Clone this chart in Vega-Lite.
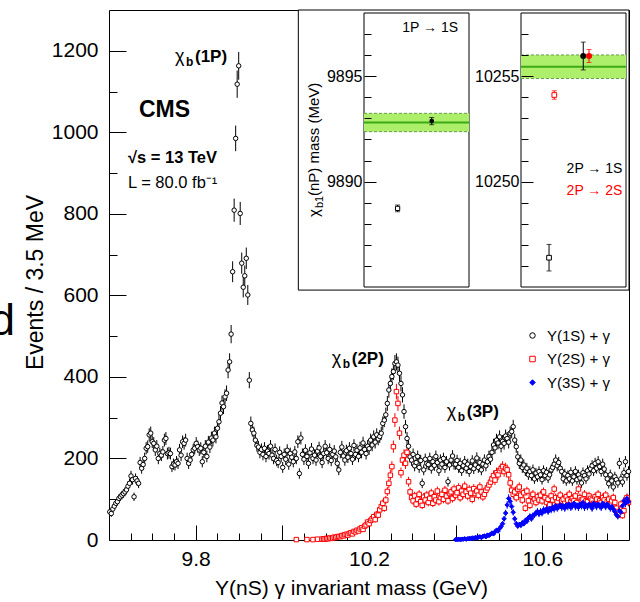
{
"$schema":"https://vega.github.io/schema/vega-lite/v6.json",
"width":520,"height":530,
"autosize":{"type":"none"},
"padding":{"left":109,"top":10,"right":11,"bottom":62},
"background":"white",
"config":{"font":"Liberation Sans","view":{"stroke":"black","strokeWidth":1},
"axis":{"grid":false,"domain":false,"zindex":1,"tickColor":"black","tickWidth":1,"labelColor":"black","titleColor":"black","labelFont":"Liberation Sans","titleFont":"Liberation Sans","titleFontWeight":"normal","labelFontWeight":"normal","labelOverlap":false,"labelFlush":false,"labelBound":false}},
"datasets":{
"h":[
{"s":1,"x":9.6018,"y":69},{"s":1,"x":9.6053,"y":65},{"s":1,"x":9.6088,"y":76},{"s":1,"x":9.6123,"y":83},{"s":1,"x":9.6158,"y":90},{"s":1,"x":9.6193,"y":94},{"s":1,"x":9.6228,"y":102},{"s":1,"x":9.6263,"y":106},{"s":1,"x":9.6298,"y":110},{"s":1,"x":9.6333,"y":114},
{"s":1,"x":9.6368,"y":118},{"s":1,"x":9.6403,"y":123},{"s":1,"x":9.6438,"y":132},{"s":1,"x":9.6473,"y":139},{"s":1,"x":9.6508,"y":157},{"s":1,"x":9.6543,"y":148},{"s":1,"x":9.6578,"y":106},{"s":1,"x":9.6613,"y":151},{"s":1,"x":9.6648,"y":145},{"s":1,"x":9.6683,"y":139},
{"s":1,"x":9.6718,"y":190},{"s":1,"x":9.6753,"y":176},{"s":1,"x":9.6788,"y":185},{"s":1,"x":9.6823,"y":200},{"s":1,"x":9.6858,"y":225},{"s":1,"x":9.6893,"y":229},{"s":1,"x":9.6928,"y":258},{"s":1,"x":9.6963,"y":262},{"s":1,"x":9.6998,"y":241},{"s":1,"x":9.7033,"y":237},
{"s":1,"x":9.7068,"y":221},{"s":1,"x":9.7103,"y":230},{"s":1,"x":9.7138,"y":200},{"s":1,"x":9.7173,"y":212},{"s":1,"x":9.7208,"y":208},{"s":1,"x":9.7243,"y":216},{"s":1,"x":9.7278,"y":245},{"s":1,"x":9.7313,"y":249},{"s":1,"x":9.7348,"y":212},{"s":1,"x":9.7383,"y":214},
{"s":1,"x":9.7418,"y":212},{"s":1,"x":9.7453,"y":180},{"s":1,"x":9.7488,"y":186},{"s":1,"x":9.7523,"y":184},{"s":1,"x":9.7558,"y":192},{"s":1,"x":9.7593,"y":188},{"s":1,"x":9.7628,"y":221},{"s":1,"x":9.7663,"y":208},{"s":1,"x":9.7698,"y":241},{"s":1,"x":9.7733,"y":237},
{"s":1,"x":9.7768,"y":245},{"s":1,"x":9.7803,"y":200},{"s":1,"x":9.7838,"y":188},{"s":1,"x":9.7873,"y":196},{"s":1,"x":9.7908,"y":210},{"s":1,"x":9.7943,"y":221},{"s":1,"x":9.7978,"y":225},{"s":1,"x":9.8013,"y":237},{"s":1,"x":9.8048,"y":229},{"s":1,"x":9.8083,"y":221},
{"s":1,"x":9.8118,"y":225},{"s":1,"x":9.8153,"y":192},{"s":1,"x":9.8188,"y":215},{"s":1,"x":9.8223,"y":230},{"s":1,"x":9.8258,"y":205},{"s":1,"x":9.8293,"y":240},{"s":1,"x":9.8328,"y":228},{"s":1,"x":9.8363,"y":250},{"s":1,"x":9.8398,"y":245},{"s":1,"x":9.8433,"y":262},
{"s":1,"x":9.8468,"y":253},{"s":1,"x":9.8503,"y":274},{"s":1,"x":9.8538,"y":290},{"s":1,"x":9.8573,"y":311},{"s":1,"x":9.8608,"y":336},{"s":1,"x":9.8643,"y":327},{"s":1,"x":9.8678,"y":351},{"s":1,"x":9.8713,"y":360},{"s":1,"x":9.8748,"y":417},{"s":1,"x":9.8783,"y":437},
{"s":1,"x":9.8818,"y":505},{"s":1,"x":9.8853,"y":658},{"s":1,"x":9.8888,"y":809},{"s":1,"x":9.8923,"y":985},{"s":1,"x":9.8958,"y":1118},{"s":1,"x":9.8993,"y":1163},{"s":1,"x":9.9028,"y":801},{"s":1,"x":9.9063,"y":679},{"s":1,"x":9.9098,"y":620},{"s":1,"x":9.9133,"y":648},
{"s":1,"x":9.9168,"y":691},{"s":1,"x":9.9203,"y":601},{"s":1,"x":9.9238,"y":392},{"s":1,"x":9.9273,"y":286},{"s":1,"x":9.9308,"y":270},{"s":1,"x":9.9343,"y":262},{"s":1,"x":9.9378,"y":245},{"s":1,"x":9.9413,"y":232},{"s":1,"x":9.9448,"y":228},{"s":1,"x":9.9483,"y":215},
{"s":1,"x":9.9518,"y":222},{"s":1,"x":9.9553,"y":210},{"s":1,"x":9.9588,"y":225},{"s":1,"x":9.9623,"y":205},{"s":1,"x":9.9658,"y":218},{"s":1,"x":9.9693,"y":212},{"s":1,"x":9.9728,"y":230},{"s":1,"x":9.9763,"y":208},{"s":1,"x":9.9798,"y":200},{"s":1,"x":9.9833,"y":222},
{"s":1,"x":9.9868,"y":195},{"s":1,"x":9.9903,"y":190},{"s":1,"x":9.9938,"y":215},{"s":1,"x":9.9973,"y":205},{"s":1,"x":10.0008,"y":178},{"s":1,"x":10.0043,"y":210},{"s":1,"x":10.0078,"y":198},{"s":1,"x":10.0113,"y":220},{"s":1,"x":10.0148,"y":186},{"s":1,"x":10.0183,"y":212},
{"s":1,"x":10.0218,"y":203},{"s":1,"x":10.0253,"y":192},{"s":1,"x":10.0288,"y":216},{"s":1,"x":10.0323,"y":200},{"s":1,"x":10.0358,"y":241},{"s":1,"x":10.0393,"y":163},{"s":1,"x":10.0428,"y":250},{"s":1,"x":10.0463,"y":210},{"s":1,"x":10.0498,"y":198},{"s":1,"x":10.0533,"y":220},
{"s":1,"x":10.0568,"y":205},{"s":1,"x":10.0603,"y":188},{"s":1,"x":10.0638,"y":214},{"s":1,"x":10.0673,"y":223},{"s":1,"x":10.0708,"y":200},{"s":1,"x":10.0743,"y":208},{"s":1,"x":10.0778,"y":196},{"s":1,"x":10.0813,"y":218},{"s":1,"x":10.0848,"y":226},{"s":1,"x":10.0883,"y":205},
{"s":1,"x":10.0918,"y":190},{"s":1,"x":10.0953,"y":212},{"s":1,"x":10.0988,"y":230},{"s":1,"x":10.1023,"y":214},{"s":1,"x":10.1058,"y":200},{"s":1,"x":10.1093,"y":222},{"s":1,"x":10.1128,"y":195},{"s":1,"x":10.1163,"y":210},{"s":1,"x":10.1198,"y":218},{"s":1,"x":10.1233,"y":204},
{"s":1,"x":10.1268,"y":188},{"s":1,"x":10.1303,"y":172},{"s":1,"x":10.1338,"y":215},{"s":1,"x":10.1373,"y":228},{"s":1,"x":10.1408,"y":206},{"s":1,"x":10.1443,"y":196},{"s":1,"x":10.1478,"y":219},{"s":1,"x":10.1513,"y":203},{"s":1,"x":10.1548,"y":225},{"s":1,"x":10.1583,"y":212},
{"s":1,"x":10.1618,"y":198},{"s":1,"x":10.1653,"y":232},{"s":1,"x":10.1688,"y":210},{"s":1,"x":10.1723,"y":220},{"s":1,"x":10.1758,"y":205},{"s":1,"x":10.1793,"y":226},{"s":1,"x":10.1828,"y":215},{"s":1,"x":10.1863,"y":238},{"s":1,"x":10.1898,"y":222},{"s":1,"x":10.1933,"y":212},
{"s":1,"x":10.1968,"y":230},{"s":1,"x":10.2003,"y":224},{"s":1,"x":10.2038,"y":245},{"s":1,"x":10.2073,"y":233},{"s":1,"x":10.2108,"y":253},{"s":1,"x":10.2143,"y":240},{"s":1,"x":10.2178,"y":258},{"s":1,"x":10.2213,"y":248},{"s":1,"x":10.2248,"y":254},{"s":1,"x":10.2283,"y":262},
{"s":1,"x":10.2318,"y":286},{"s":1,"x":10.2353,"y":294},{"s":1,"x":10.2388,"y":307},{"s":1,"x":10.2423,"y":335},{"s":1,"x":10.2458,"y":368},{"s":1,"x":10.2493,"y":384},{"s":1,"x":10.2528,"y":401},{"s":1,"x":10.2563,"y":413},{"s":1,"x":10.2598,"y":433},{"s":1,"x":10.2633,"y":437},
{"s":1,"x":10.2668,"y":429},{"s":1,"x":10.2703,"y":409},{"s":1,"x":10.2738,"y":384},{"s":1,"x":10.2773,"y":356},{"s":1,"x":10.2808,"y":315},{"s":1,"x":10.2843,"y":278},{"s":1,"x":10.2878,"y":249},{"s":1,"x":10.2913,"y":230},{"s":1,"x":10.2948,"y":204},{"s":1,"x":10.2983,"y":196},
{"s":1,"x":10.3018,"y":210},{"s":1,"x":10.3053,"y":182},{"s":1,"x":10.3088,"y":190},{"s":1,"x":10.3123,"y":205},{"s":1,"x":10.3158,"y":178},{"s":1,"x":10.3193,"y":195},{"s":1,"x":10.3228,"y":139},{"s":1,"x":10.3263,"y":172},{"s":1,"x":10.3298,"y":198},{"s":1,"x":10.3333,"y":188},
{"s":1,"x":10.3368,"y":185},{"s":1,"x":10.3403,"y":200},{"s":1,"x":10.3438,"y":176},{"s":1,"x":10.3473,"y":192},{"s":1,"x":10.3508,"y":183},{"s":1,"x":10.3543,"y":205},{"s":1,"x":10.3578,"y":190},{"s":1,"x":10.3613,"y":170},{"s":1,"x":10.3648,"y":196},{"s":1,"x":10.3683,"y":186},
{"s":1,"x":10.3718,"y":200},{"s":1,"x":10.3753,"y":178},{"s":1,"x":10.3788,"y":192},{"s":1,"x":10.3823,"y":143},{"s":1,"x":10.3858,"y":184},{"s":1,"x":10.3893,"y":196},{"s":1,"x":10.3928,"y":206},{"s":1,"x":10.3963,"y":186},{"s":1,"x":10.3998,"y":186},{"s":1,"x":10.4033,"y":195},
{"s":1,"x":10.4068,"y":178},{"s":1,"x":10.4103,"y":188},{"s":1,"x":10.4138,"y":170},{"s":1,"x":10.4173,"y":182},{"s":1,"x":10.4208,"y":192},{"s":1,"x":10.4243,"y":176},{"s":1,"x":10.4278,"y":186},{"s":1,"x":10.4313,"y":168},{"s":1,"x":10.4348,"y":180},{"s":1,"x":10.4383,"y":194},
{"s":1,"x":10.4418,"y":175},{"s":1,"x":10.4453,"y":184},{"s":1,"x":10.4488,"y":201},{"s":1,"x":10.4523,"y":178},{"s":1,"x":10.4558,"y":190},{"s":1,"x":10.4593,"y":172},{"s":1,"x":10.4628,"y":186},{"s":1,"x":10.4663,"y":196},{"s":1,"x":10.4698,"y":182},{"s":1,"x":10.4733,"y":192},
{"s":1,"x":10.4768,"y":205},{"s":1,"x":10.4803,"y":198},{"s":1,"x":10.4838,"y":215},{"s":1,"x":10.4873,"y":233},{"s":1,"x":10.4908,"y":226},{"s":1,"x":10.4943,"y":245},{"s":1,"x":10.4978,"y":238},{"s":1,"x":10.5013,"y":253},{"s":1,"x":10.5048,"y":230},{"s":1,"x":10.5083,"y":242},
{"s":1,"x":10.5118,"y":237},{"s":1,"x":10.5153,"y":255},{"s":1,"x":10.5188,"y":249},{"s":1,"x":10.5223,"y":240},{"s":1,"x":10.5258,"y":262},{"s":1,"x":10.5293,"y":266},{"s":1,"x":10.5328,"y":278},{"s":1,"x":10.5363,"y":245},{"s":1,"x":10.5398,"y":229},{"s":1,"x":10.5433,"y":204},
{"s":1,"x":10.5468,"y":188},{"s":1,"x":10.5503,"y":196},{"s":1,"x":10.5538,"y":178},{"s":1,"x":10.5573,"y":184},{"s":1,"x":10.5608,"y":170},{"s":1,"x":10.5643,"y":176},{"s":1,"x":10.5678,"y":160},{"s":1,"x":10.5713,"y":168},{"s":1,"x":10.5748,"y":158},{"s":1,"x":10.5783,"y":172},
{"s":1,"x":10.5818,"y":150},{"s":1,"x":10.5853,"y":164},{"s":1,"x":10.5888,"y":155},{"s":1,"x":10.5923,"y":168},{"s":1,"x":10.5958,"y":160},{"s":1,"x":10.5993,"y":148},{"s":1,"x":10.6028,"y":170},{"s":1,"x":10.6063,"y":158},{"s":1,"x":10.6098,"y":166},{"s":1,"x":10.6133,"y":152},
{"s":1,"x":10.6168,"y":160},{"s":1,"x":10.6203,"y":172},{"s":1,"x":10.6238,"y":178},{"s":1,"x":10.6273,"y":186},{"s":1,"x":10.6308,"y":196},{"s":1,"x":10.6343,"y":182},{"s":1,"x":10.6378,"y":190},{"s":1,"x":10.6413,"y":176},{"s":1,"x":10.6448,"y":168},{"s":1,"x":10.6483,"y":150},
{"s":1,"x":10.6518,"y":162},{"s":1,"x":10.6553,"y":145},{"s":1,"x":10.6588,"y":158},{"s":1,"x":10.6623,"y":150},{"s":1,"x":10.6658,"y":166},{"s":1,"x":10.6693,"y":145},{"s":1,"x":10.6728,"y":155},{"s":1,"x":10.6763,"y":168},{"s":1,"x":10.6798,"y":148},{"s":1,"x":10.6833,"y":160},
{"s":1,"x":10.6868,"y":152},{"s":1,"x":10.6903,"y":140},{"s":1,"x":10.6938,"y":165},{"s":1,"x":10.6973,"y":158},{"s":1,"x":10.7008,"y":150},{"s":1,"x":10.7043,"y":170},{"s":1,"x":10.7078,"y":162},{"s":1,"x":10.7113,"y":175},{"s":1,"x":10.7148,"y":182},{"s":1,"x":10.7183,"y":170},
{"s":1,"x":10.7218,"y":188},{"s":1,"x":10.7253,"y":176},{"s":1,"x":10.7288,"y":192},{"s":1,"x":10.7323,"y":180},{"s":1,"x":10.7358,"y":168},{"s":1,"x":10.7393,"y":186},{"s":1,"x":10.7428,"y":174},{"s":1,"x":10.7463,"y":160},{"s":1,"x":10.7498,"y":150},{"s":1,"x":10.7533,"y":138},
{"s":1,"x":10.7568,"y":160},{"s":1,"x":10.7603,"y":145},{"s":1,"x":10.7638,"y":130},{"s":1,"x":10.7673,"y":155},{"s":1,"x":10.7708,"y":148},{"s":1,"x":10.7743,"y":140},{"s":1,"x":10.7778,"y":188},{"s":1,"x":10.7813,"y":150},{"s":1,"x":10.7848,"y":142},{"s":1,"x":10.7883,"y":165},
{"s":1,"x":10.7918,"y":192},{"s":1,"x":10.7953,"y":158},{"s":1,"x":10.7988,"y":168},
{"s":2,"x":10.0323,"y":1},{"s":2,"x":10.0568,"y":1},{"s":2,"x":10.0708,"y":1},{"s":2,"x":10.0813,"y":2},
{"s":2,"x":10.0918,"y":2},{"s":2,"x":10.0953,"y":3},{"s":2,"x":10.0988,"y":2},{"s":2,"x":10.1023,"y":4},{"s":2,"x":10.1058,"y":3},{"s":2,"x":10.1093,"y":5},{"s":2,"x":10.1128,"y":4},{"s":2,"x":10.1163,"y":5},{"s":2,"x":10.1198,"y":7},{"s":2,"x":10.1233,"y":6},
{"s":2,"x":10.1268,"y":8},{"s":2,"x":10.1303,"y":9},{"s":2,"x":10.1338,"y":8},{"s":2,"x":10.1373,"y":11},{"s":2,"x":10.1408,"y":10},{"s":2,"x":10.1443,"y":13},{"s":2,"x":10.1478,"y":14},{"s":2,"x":10.1513,"y":12},{"s":2,"x":10.1548,"y":16},{"s":2,"x":10.1583,"y":18},
{"s":2,"x":10.1618,"y":15},{"s":2,"x":10.1653,"y":21},{"s":2,"x":10.1688,"y":20},{"s":2,"x":10.1723,"y":24},{"s":2,"x":10.1758,"y":22},{"s":2,"x":10.1793,"y":27},{"s":2,"x":10.1828,"y":30},{"s":2,"x":10.1863,"y":26},{"s":2,"x":10.1898,"y":34},{"s":2,"x":10.1933,"y":37},
{"s":2,"x":10.1968,"y":44},{"s":2,"x":10.2003,"y":40},{"s":2,"x":10.2038,"y":48},{"s":2,"x":10.2073,"y":52},{"s":2,"x":10.2108,"y":57},{"s":2,"x":10.2143,"y":50},{"s":2,"x":10.2178,"y":63},{"s":2,"x":10.2213,"y":61},{"s":2,"x":10.2248,"y":74},{"s":2,"x":10.2283,"y":82},
{"s":2,"x":10.2318,"y":90},{"s":2,"x":10.2353,"y":78},{"s":2,"x":10.2388,"y":98},{"s":2,"x":10.2423,"y":119},{"s":2,"x":10.2458,"y":139},{"s":2,"x":10.2493,"y":159},{"s":2,"x":10.2528,"y":180},{"s":2,"x":10.2563,"y":229},{"s":2,"x":10.2598,"y":294},{"s":2,"x":10.2633,"y":364},
{"s":2,"x":10.2668,"y":335},{"s":2,"x":10.2703,"y":262},{"s":2,"x":10.2738,"y":165},{"s":2,"x":10.2773,"y":196},{"s":2,"x":10.2808,"y":208},{"s":2,"x":10.2843,"y":188},{"s":2,"x":10.2878,"y":215},{"s":2,"x":10.2913,"y":143},{"s":2,"x":10.2948,"y":118},{"s":2,"x":10.2983,"y":104},
{"s":2,"x":10.3018,"y":96},{"s":2,"x":10.3053,"y":108},{"s":2,"x":10.3088,"y":88},{"s":2,"x":10.3123,"y":100},{"s":2,"x":10.3158,"y":112},{"s":2,"x":10.3193,"y":94},{"s":2,"x":10.3228,"y":85},{"s":2,"x":10.3263,"y":105},{"s":2,"x":10.3298,"y":98},{"s":2,"x":10.3333,"y":110},
{"s":2,"x":10.3368,"y":92},{"s":2,"x":10.3403,"y":102},{"s":2,"x":10.3438,"y":115},{"s":2,"x":10.3473,"y":90},{"s":2,"x":10.3508,"y":106},{"s":2,"x":10.3543,"y":98},{"s":2,"x":10.3578,"y":120},{"s":2,"x":10.3613,"y":94},{"s":2,"x":10.3648,"y":104},{"s":2,"x":10.3683,"y":112},
{"s":2,"x":10.3718,"y":100},{"s":2,"x":10.3753,"y":122},{"s":2,"x":10.3788,"y":108},{"s":2,"x":10.3823,"y":96},{"s":2,"x":10.3858,"y":114},{"s":2,"x":10.3893,"y":118},{"s":2,"x":10.3928,"y":102},{"s":2,"x":10.3963,"y":125},{"s":2,"x":10.3998,"y":110},{"s":2,"x":10.4033,"y":116},
{"s":2,"x":10.4068,"y":128},{"s":2,"x":10.4103,"y":104},{"s":2,"x":10.4138,"y":120},{"s":2,"x":10.4173,"y":112},{"s":2,"x":10.4208,"y":132},{"s":2,"x":10.4243,"y":118},{"s":2,"x":10.4278,"y":108},{"s":2,"x":10.4313,"y":124},{"s":2,"x":10.4348,"y":115},{"s":2,"x":10.4383,"y":100},
{"s":2,"x":10.4418,"y":126},{"s":2,"x":10.4453,"y":114},{"s":2,"x":10.4488,"y":120},{"s":2,"x":10.4523,"y":110},{"s":2,"x":10.4558,"y":130},{"s":2,"x":10.4593,"y":118},{"s":2,"x":10.4628,"y":106},{"s":2,"x":10.4663,"y":112},{"s":2,"x":10.4698,"y":122},{"s":2,"x":10.4733,"y":128},
{"s":2,"x":10.4768,"y":135},{"s":2,"x":10.4803,"y":142},{"s":2,"x":10.4838,"y":150},{"s":2,"x":10.4873,"y":158},{"s":2,"x":10.4908,"y":147},{"s":2,"x":10.4943,"y":165},{"s":2,"x":10.4978,"y":160},{"s":2,"x":10.5013,"y":170},{"s":2,"x":10.5048,"y":175},{"s":2,"x":10.5083,"y":180},
{"s":2,"x":10.5118,"y":168},{"s":2,"x":10.5153,"y":176},{"s":2,"x":10.5188,"y":172},{"s":2,"x":10.5223,"y":160},{"s":2,"x":10.5258,"y":140},{"s":2,"x":10.5293,"y":122},{"s":2,"x":10.5328,"y":112},{"s":2,"x":10.5363,"y":118},{"s":2,"x":10.5398,"y":104},{"s":2,"x":10.5433,"y":125},
{"s":2,"x":10.5468,"y":130},{"s":2,"x":10.5503,"y":110},{"s":2,"x":10.5538,"y":98},{"s":2,"x":10.5573,"y":116},{"s":2,"x":10.5608,"y":78},{"s":2,"x":10.5643,"y":120},{"s":2,"x":10.5678,"y":96},{"s":2,"x":10.5713,"y":85},{"s":2,"x":10.5748,"y":108},{"s":2,"x":10.5783,"y":112},
{"s":2,"x":10.5818,"y":100},{"s":2,"x":10.5853,"y":92},{"s":2,"x":10.5888,"y":106},{"s":2,"x":10.5923,"y":98},{"s":2,"x":10.5958,"y":110},{"s":2,"x":10.5993,"y":96},{"s":2,"x":10.6028,"y":118},{"s":2,"x":10.6063,"y":104},{"s":2,"x":10.6098,"y":92},{"s":2,"x":10.6133,"y":100},
{"s":2,"x":10.6168,"y":86},{"s":2,"x":10.6203,"y":108},{"s":2,"x":10.6238,"y":98},{"s":2,"x":10.6273,"y":125},{"s":2,"x":10.6308,"y":104},{"s":2,"x":10.6343,"y":94},{"s":2,"x":10.6378,"y":102},{"s":2,"x":10.6413,"y":110},{"s":2,"x":10.6448,"y":96},{"s":2,"x":10.6483,"y":100},
{"s":2,"x":10.6518,"y":90},{"s":2,"x":10.6553,"y":106},{"s":2,"x":10.6588,"y":98},{"s":2,"x":10.6623,"y":112},{"s":2,"x":10.6658,"y":94},{"s":2,"x":10.6693,"y":102},{"s":2,"x":10.6728,"y":96},{"s":2,"x":10.6763,"y":108},{"s":2,"x":10.6798,"y":92},{"s":2,"x":10.6833,"y":125},
{"s":2,"x":10.6868,"y":104},{"s":2,"x":10.6903,"y":98},{"s":2,"x":10.6938,"y":100},{"s":2,"x":10.6973,"y":112},{"s":2,"x":10.7008,"y":96},{"s":2,"x":10.7043,"y":94},{"s":2,"x":10.7078,"y":108},{"s":2,"x":10.7113,"y":102},{"s":2,"x":10.7148,"y":98},{"s":2,"x":10.7183,"y":90},
{"s":2,"x":10.7218,"y":106},{"s":2,"x":10.7253,"y":100},{"s":2,"x":10.7288,"y":112},{"s":2,"x":10.7323,"y":96},{"s":2,"x":10.7358,"y":92},{"s":2,"x":10.7393,"y":104},{"s":2,"x":10.7428,"y":98},{"s":2,"x":10.7463,"y":110},{"s":2,"x":10.7498,"y":94},{"s":2,"x":10.7533,"y":100},
{"s":2,"x":10.7568,"y":88},{"s":2,"x":10.7603,"y":96},{"s":2,"x":10.7638,"y":104},{"s":2,"x":10.7673,"y":92},{"s":2,"x":10.7708,"y":78},{"s":2,"x":10.7743,"y":70},{"s":2,"x":10.7778,"y":62},{"s":2,"x":10.7813,"y":88},{"s":2,"x":10.7848,"y":60},{"s":2,"x":10.7883,"y":72},
{"s":2,"x":10.7918,"y":96},{"s":2,"x":10.7953,"y":104},{"s":2,"x":10.7988,"y":92},
{"s":3,"x":10.3998,"y":1},{"s":3,"x":10.4033,"y":1},
{"s":3,"x":10.4068,"y":2},{"s":3,"x":10.4103,"y":1},{"s":3,"x":10.4138,"y":2},{"s":3,"x":10.4173,"y":2},{"s":3,"x":10.4208,"y":3},{"s":3,"x":10.4243,"y":2},{"s":3,"x":10.4278,"y":3},{"s":3,"x":10.4313,"y":4},{"s":3,"x":10.4348,"y":3},{"s":3,"x":10.4383,"y":5},
{"s":3,"x":10.4418,"y":4},{"s":3,"x":10.4453,"y":6},{"s":3,"x":10.4488,"y":5},{"s":3,"x":10.4523,"y":7},{"s":3,"x":10.4558,"y":8},{"s":3,"x":10.4593,"y":6},{"s":3,"x":10.4628,"y":9},{"s":3,"x":10.4663,"y":10},{"s":3,"x":10.4698,"y":8},{"s":3,"x":10.4733,"y":12},
{"s":3,"x":10.4768,"y":11},{"s":3,"x":10.4803,"y":14},{"s":3,"x":10.4838,"y":17},{"s":3,"x":10.4873,"y":15},{"s":3,"x":10.4908,"y":20},{"s":3,"x":10.4943,"y":24},{"s":3,"x":10.4978,"y":22},{"s":3,"x":10.5013,"y":28},{"s":3,"x":10.5048,"y":33},{"s":3,"x":10.5083,"y":40},
{"s":3,"x":10.5118,"y":52},{"s":3,"x":10.5153,"y":66},{"s":3,"x":10.5188,"y":86},{"s":3,"x":10.5223,"y":102},{"s":3,"x":10.5258,"y":95},{"s":3,"x":10.5293,"y":82},{"s":3,"x":10.5328,"y":68},{"s":3,"x":10.5363,"y":52},{"s":3,"x":10.5398,"y":40},{"s":3,"x":10.5433,"y":34},
{"s":3,"x":10.5468,"y":38},{"s":3,"x":10.5503,"y":36},{"s":3,"x":10.5538,"y":42},{"s":3,"x":10.5573,"y":40},{"s":3,"x":10.5608,"y":48},{"s":3,"x":10.5643,"y":46},{"s":3,"x":10.5678,"y":54},{"s":3,"x":10.5713,"y":58},{"s":3,"x":10.5748,"y":52},{"s":3,"x":10.5783,"y":60},
{"s":3,"x":10.5818,"y":62},{"s":3,"x":10.5853,"y":66},{"s":3,"x":10.5888,"y":70},{"s":3,"x":10.5923,"y":64},{"s":3,"x":10.5958,"y":70},{"s":3,"x":10.5993,"y":66},{"s":3,"x":10.6028,"y":74},{"s":3,"x":10.6063,"y":72},{"s":3,"x":10.6098,"y":76},{"s":3,"x":10.6133,"y":70},
{"s":3,"x":10.6168,"y":78},{"s":3,"x":10.6203,"y":74},{"s":3,"x":10.6238,"y":80},{"s":3,"x":10.6273,"y":76},{"s":3,"x":10.6308,"y":84},{"s":3,"x":10.6343,"y":78},{"s":3,"x":10.6378,"y":82},{"s":3,"x":10.6413,"y":86},{"s":3,"x":10.6448,"y":80},{"s":3,"x":10.6483,"y":84},
{"s":3,"x":10.6518,"y":78},{"s":3,"x":10.6553,"y":86},{"s":3,"x":10.6588,"y":82},{"s":3,"x":10.6623,"y":88},{"s":3,"x":10.6658,"y":80},{"s":3,"x":10.6693,"y":84},{"s":3,"x":10.6728,"y":90},{"s":3,"x":10.6763,"y":82},{"s":3,"x":10.6798,"y":86},{"s":3,"x":10.6833,"y":80},
{"s":3,"x":10.6868,"y":88},{"s":3,"x":10.6903,"y":84},{"s":3,"x":10.6938,"y":92},{"s":3,"x":10.6973,"y":80},{"s":3,"x":10.7008,"y":86},{"s":3,"x":10.7043,"y":82},{"s":3,"x":10.7078,"y":88},{"s":3,"x":10.7113,"y":84},{"s":3,"x":10.7148,"y":78},{"s":3,"x":10.7183,"y":90},
{"s":3,"x":10.7218,"y":86},{"s":3,"x":10.7253,"y":82},{"s":3,"x":10.7288,"y":88},{"s":3,"x":10.7323,"y":84},{"s":3,"x":10.7358,"y":80},{"s":3,"x":10.7393,"y":90},{"s":3,"x":10.7428,"y":86},{"s":3,"x":10.7463,"y":82},{"s":3,"x":10.7498,"y":88},{"s":3,"x":10.7533,"y":84},
{"s":3,"x":10.7568,"y":78},{"s":3,"x":10.7603,"y":82},{"s":3,"x":10.7638,"y":76},{"s":3,"x":10.7673,"y":70},{"s":3,"x":10.7708,"y":62},{"s":3,"x":10.7743,"y":58},{"s":3,"x":10.7778,"y":72},{"s":3,"x":10.7813,"y":68},{"s":3,"x":10.7848,"y":84},{"s":3,"x":10.7883,"y":96},
{"s":3,"x":10.7918,"y":90},{"s":3,"x":10.7953,"y":102},{"s":3,"x":10.7988,"y":94}
],
"ins":[
{"p":1,"i":0.32,"m":9888.73,"e":0.16,"s":1,"t":"open"},
{"p":1,"i":0.645,"m":9892.87,"e":0.17,"s":1,"t":"full"},
{"p":2,"i":0.267,"m":10246.39,"e":0.63,"s":1,"t":"open"},
{"p":2,"i":0.317,"m":10254.11,"e":0.2,"s":2,"t":"open"},
{"p":2,"i":0.593,"m":10255.96,"e":0.66,"s":1,"t":"full"},
{"p":2,"i":0.648,"m":10255.96,"e":0.31,"s":2,"t":"full"}
],
"band":[
{"p":1,"lo":9892.37,"c":9892.81,"hi":9893.24},
{"p":2,"lo":10254.89,"c":10255.45,"hi":10256.01}
],
"lab":[
{"p":1,"i":0.63,"m":9897.27,"t":"1P → 1S","s":1},
{"p":2,"i":0.7,"m":10250.6,"t":"2P → 1S","s":1},
{"p":2,"i":0.7,"m":10249.55,"t":"2P → 2S","s":2}
]
},
"layer":[
{"layer":[
{"data":{"values":[{}]},"mark":{"type":"rect","fill":"white","stroke":"black","strokeWidth":1},
"encoding":{
"x":{"datum":10.0369,"type":"quantitative","scale":{"domain":[9.6,10.8],"nice":false,"zero":false},
"axis":{"orient":"bottom","values":[9.8,10.0,10.2,10.4,10.6],"format":".1f","tickSize":-15,
"labelExpr":"datum.label == '10.0' || datum.label == '10.4' ? '' : datum.label",
"labelFontSize":21,"labelPadding":23,"title":"Υ(nS) γ  invariant mass (GeV)","titleFontSize":21,"titleX":242,"titleY":54,"titleAlign":"center","titleBaseline":"alphabetic"}},
"x2":{"datum":10.8},
"y":{"datum":613,"type":"quantitative","scale":{"domain":[0,1300],"nice":false},
"axis":{"orient":"left","values":[0,50,100,150,200,250,300,350,400,450,500,550,600,650,700,750,800,850,900,950,1000,1050,1100,1150,1200,1250],"format":"d",
"tickSize":{"condition":{"test":"datum.value % 200 == 0","value":-17},"value":-8},
"labelExpr":"datum.value % 200 == 0 ? datum.label : ''","labelFontSize":21,"labelPadding":28,
"title":"Events / 3.5 MeV","titleFontSize":23,"titleAngle":-90,"titleX":-67,"titleY":272,"titleAlign":"center","titleBaseline":"alphabetic"}},
"y2":{"datum":1300}}},
{"data":{"name":"h"},"transform":[{"filter":"datum.s == 1"},{"calculate":"datum.y - sqrt(datum.y)","as":"lo"},{"calculate":"datum.y + sqrt(datum.y)","as":"hi"}],
"mark":{"type":"rule","strokeWidth":1,"stroke":"#000000"},
"encoding":{"x":{"field":"x","type":"quantitative"},"y":{"field":"lo","type":"quantitative"},"y2":{"field":"hi"}}},
{"data":{"name":"h"},"transform":[{"filter":"datum.s == 2"},{"calculate":"datum.y - sqrt(datum.y)","as":"lo"},{"calculate":"datum.y + sqrt(datum.y)","as":"hi"}],
"mark":{"type":"rule","strokeWidth":1,"stroke":"#ff0000"},
"encoding":{"x":{"field":"x","type":"quantitative"},"y":{"field":"lo","type":"quantitative"},"y2":{"field":"hi"}}},
{"data":{"name":"h"},"transform":[{"filter":"datum.s == 3"},{"calculate":"datum.y - sqrt(datum.y)","as":"lo"},{"calculate":"datum.y + sqrt(datum.y)","as":"hi"}],
"mark":{"type":"rule","strokeWidth":1,"stroke":"#0000ff"},
"encoding":{"x":{"field":"x","type":"quantitative"},"y":{"field":"lo","type":"quantitative"},"y2":{"field":"hi"}}},
{"data":{"name":"h"},"mark":{"type":"point","filled":false,"size":20,"strokeWidth":1,"opacity":1},
"encoding":{"x":{"field":"x","type":"quantitative"},"y":{"field":"y","type":"quantitative"},
"stroke":{"field":"s","type":"nominal","scale":{"domain":[1,2,3],"range":["#000000","#ff0000","#0000ff"]},
"legend":{"orient":"none","legendX":416,"legendY":318,"title":null,"padding":0,"offset":0,"zindex":1,"labelFontSize":15,"labelFont":"Liberation Sans","symbolSize":30,"symbolStrokeWidth":1,"rowPadding":7.5,"labelOffset":7,
"labelExpr":"datum.value == 1 ? 'Υ(1S) + γ' : datum.value == 2 ? 'Υ(2S) + γ' : 'Υ(3S) + γ'",
"encode":{"labels":{"update":{"fill":{"signal":"datum.value == 1 ? '#000000' : datum.value == 2 ? '#ff0000' : '#0000ff'"}}}}}},
"fill":{"field":"s","type":"nominal","scale":{"domain":[1,2,3],"range":["#ffffff","#ffffff","#0000ff"]}},
"shape":{"field":"s","type":"nominal","scale":{"domain":[1,2,3],"range":["circle","square","diamond"]}}}},
{"data":{"values":[{"x":9.6692,"y":1037}]},"mark":{"type":"text","text":"CMS","fontSize":23,"fontWeight":"bold","align":"left","baseline":"alphabetic","font":"Liberation Sans"},
"encoding":{"x":{"field":"x","type":"quantitative"},"y":{"field":"y","type":"quantitative"}}},
{"data":{"values":[{"x":9.6438,"y":925}]},"mark":{"type":"text","text":"√s = 13 TeV","fontSize":16.5,"fontWeight":"bold","align":"left","baseline":"alphabetic","font":"Liberation Sans"},
"encoding":{"x":{"field":"x","type":"quantitative"},"y":{"field":"y","type":"quantitative"}}},
{"data":{"values":[{"x":9.6438,"y":863}]},"mark":{"type":"text","text":"L = 80.0 fb⁻¹","fontSize":16.5,"align":"left","baseline":"alphabetic","font":"Liberation Sans"},
"encoding":{"x":{"field":"x","type":"quantitative"},"y":{"field":"y","type":"quantitative"}}},
{"data":{"name":"chi","values":[{"x":9.7523,"y":1172,"n":"(1P)"},{"x":10.114,"y":432,"n":"(2P)"},{"x":10.3794,"y":302,"n":"(3P)"}]},
"layer":[
{"mark":{"type":"text","text":"χ","fontSize":18,"align":"left","baseline":"alphabetic","font":"Liberation Sans"}},
{"mark":{"type":"text","text":"b","fontSize":12,"fontWeight":"bold","dx":11,"dy":4,"align":"left","baseline":"alphabetic","font":"Liberation Sans"}},
{"mark":{"type":"text","fontSize":17,"fontWeight":"bold","dx":20,"align":"left","baseline":"alphabetic","font":"Liberation Sans"},"encoding":{"text":{"field":"n"}}}
],
"encoding":{"x":{"field":"x","type":"quantitative"},"y":{"field":"y","type":"quantitative"}}},
{"data":{"values":[{"x":10.0847,"y":792}]},
"layer":[
{"mark":{"type":"text","text":"χ","fontSize":15,"angle":270,"align":"left","baseline":"alphabetic","font":"Liberation Sans"}},
{"mark":{"type":"text","text":"b1","fontSize":11,"angle":270,"dx":9,"dy":4,"align":"left","baseline":"alphabetic","font":"Liberation Sans"}},
{"mark":{"type":"text","text":"(nP) mass  (MeV)","fontSize":15,"angle":270,"dx":21,"align":"left","baseline":"alphabetic","font":"Liberation Sans"}}
],
"encoding":{"x":{"field":"x","type":"quantitative"},"y":{"field":"y","type":"quantitative"}}},
{"data":{"values":[{"x":9.3831,"y":503}]},"mark":{"type":"text","text":"d","fontSize":44,"align":"right","baseline":"alphabetic","font":"Liberation Sans"},
"encoding":{"x":{"field":"x","type":"quantitative"},"y":{"field":"y","type":"quantitative"}}}
]},
{"data":{"values":[{}]},"mark":{"type":"point","opacity":0},
"encoding":{"x":{"datum":10,"type":"quantitative","scale":{"domain":[9.6,10.8],"nice":false,"zero":false},
"axis":{"orient":"bottom","values":[9.65,9.7,9.75,9.85,9.9,9.95,10.05,10.1,10.15,10.25,10.3,10.35,10.45,10.5,10.55,10.65,10.7,10.75],"tickSize":-7,"labels":false,"title":null}},
"y":{"datum":0,"type":"quantitative","scale":{"domain":[0,1300],"nice":false},"axis":null}}},
{"layer":[
{"data":{"values":[{}]},"mark":{"type":"rect","fill":"white","stroke":"black","strokeWidth":1},
"encoding":{"x":{"datum":0,"type":"quantitative","scale":{"domain":[0,1],"range":[255,360],"nice":false,"zero":false},"axis":null},
"x2":{"datum":1},
"y":{"datum":9885,"type":"quantitative","scale":{"domain":[9885,9898],"range":[277,3],"nice":false,"zero":false},
"axis":{"orient":"left","offset":-255,"zindex":2,"values":[9886,9887,9888,9889,9890,9891,9892,9893,9894,9895,9896,9897],"format":"d",
"tickSize":{"condition":{"test":"datum.value % 5 == 0","value":-12},"value":-7},
"labelExpr":"datum.value % 5 == 0 ? datum.label : ''","labelFontSize":16,"labelPadding":14,"title":null}},
"y2":{"datum":9898}}},
{"data":{"name":"band"},"transform":[{"filter":"datum.p == 1"}],"mark":{"type":"rect","fill":"#adef6a"},
"encoding":{"x":{"datum":0,"type":"quantitative"},"x2":{"datum":1},"y":{"field":"lo","type":"quantitative"},"y2":{"field":"hi"}}},
{"data":{"name":"band"},"transform":[{"filter":"datum.p == 1"}],"mark":{"type":"rule","stroke":"#6a9a50","strokeDash":[3,2],"strokeWidth":1},
"encoding":{"x":{"datum":0,"type":"quantitative"},"x2":{"datum":1},"y":{"field":"lo","type":"quantitative"}}},
{"data":{"name":"band"},"transform":[{"filter":"datum.p == 1"}],"mark":{"type":"rule","stroke":"#6a9a50","strokeDash":[3,2],"strokeWidth":1},
"encoding":{"x":{"datum":0,"type":"quantitative"},"x2":{"datum":1},"y":{"field":"hi","type":"quantitative"}}},
{"data":{"name":"band"},"transform":[{"filter":"datum.p == 1"}],"mark":{"type":"rule","stroke":"#3caa14","strokeWidth":2},
"encoding":{"x":{"datum":0,"type":"quantitative"},"x2":{"datum":1},"y":{"field":"c","type":"quantitative"}}},
{"data":{"name":"ins"},"transform":[{"filter":"datum.p == 1"},{"calculate":"datum.m - datum.e","as":"lo"},{"calculate":"datum.m + datum.e","as":"hi"}],
"layer":[
{"mark":{"type":"rule","strokeWidth":1},"encoding":{"y":{"field":"lo","type":"quantitative"},"y2":{"field":"hi"}}},
{"mark":{"type":"tick","orient":"horizontal","size":5,"thickness":1},"encoding":{"y":{"field":"lo","type":"quantitative"}}},
{"mark":{"type":"tick","orient":"horizontal","size":5,"thickness":1},"encoding":{"y":{"field":"hi","type":"quantitative"}}}
],
"encoding":{"x":{"field":"i","type":"quantitative"},"color":{"field":"s","type":"nominal","scale":{"domain":[1,2,3],"range":["#000000","#ff0000","#0000ff"]},"legend":null}}},
{"data":{"name":"ins"},"transform":[{"filter":"datum.p == 1 && datum.t == 'open'"}],"mark":{"type":"point","shape":"square","filled":false,"fill":"white","size":18,"strokeWidth":1,"opacity":1},
"encoding":{"x":{"field":"i","type":"quantitative"},"y":{"field":"m","type":"quantitative"},"color":{"field":"s","type":"nominal","legend":null}}},
{"data":{"name":"ins"},"transform":[{"filter":"datum.p == 1 && datum.t == 'full'"}],"mark":{"type":"point","shape":"circle","filled":true,"size":22,"opacity":1},
"encoding":{"x":{"field":"i","type":"quantitative"},"y":{"field":"m","type":"quantitative"},"color":{"field":"s","type":"nominal","legend":null}}},
{"data":{"name":"lab"},"transform":[{"filter":"datum.p == 1"}],"mark":{"type":"text","fontSize":14,"align":"center","baseline":"middle","font":"Liberation Sans"},
"encoding":{"x":{"field":"i","type":"quantitative"},"y":{"field":"m","type":"quantitative"},"text":{"field":"t"},"color":{"field":"s","type":"nominal","legend":null}}}
]},
{"layer":[
{"data":{"values":[{}]},"mark":{"type":"rect","fill":"white","stroke":"black","strokeWidth":1},
"encoding":{"x":{"datum":0,"type":"quantitative","scale":{"domain":[0,1],"range":[412,517],"nice":false,"zero":false},"axis":null},
"x2":{"datum":1},
"y":{"datum":10245,"type":"quantitative","scale":{"domain":[10245,10258],"range":[277,3],"nice":false,"zero":false},
"axis":{"orient":"left","offset":-412,"zindex":2,"values":[10246,10247,10248,10249,10250,10251,10252,10253,10254,10255,10256,10257],"format":"d",
"tickSize":{"condition":{"test":"datum.value % 5 == 0","value":-12},"value":-7},
"labelExpr":"datum.value % 5 == 0 ? datum.label : ''","labelFontSize":16,"labelPadding":14,"title":null}},
"y2":{"datum":10258}}},
{"data":{"name":"band"},"transform":[{"filter":"datum.p == 2"}],"mark":{"type":"rect","fill":"#adef6a"},
"encoding":{"x":{"datum":0,"type":"quantitative"},"x2":{"datum":1},"y":{"field":"lo","type":"quantitative"},"y2":{"field":"hi"}}},
{"data":{"name":"band"},"transform":[{"filter":"datum.p == 2"}],"mark":{"type":"rule","stroke":"#6a9a50","strokeDash":[3,2],"strokeWidth":1},
"encoding":{"x":{"datum":0,"type":"quantitative"},"x2":{"datum":1},"y":{"field":"lo","type":"quantitative"}}},
{"data":{"name":"band"},"transform":[{"filter":"datum.p == 2"}],"mark":{"type":"rule","stroke":"#6a9a50","strokeDash":[3,2],"strokeWidth":1},
"encoding":{"x":{"datum":0,"type":"quantitative"},"x2":{"datum":1},"y":{"field":"hi","type":"quantitative"}}},
{"data":{"name":"band"},"transform":[{"filter":"datum.p == 2"}],"mark":{"type":"rule","stroke":"#3caa14","strokeWidth":2},
"encoding":{"x":{"datum":0,"type":"quantitative"},"x2":{"datum":1},"y":{"field":"c","type":"quantitative"}}},
{"data":{"name":"ins"},"transform":[{"filter":"datum.p == 2"},{"calculate":"datum.m - datum.e","as":"lo"},{"calculate":"datum.m + datum.e","as":"hi"}],
"layer":[
{"mark":{"type":"rule","strokeWidth":1},"encoding":{"y":{"field":"lo","type":"quantitative"},"y2":{"field":"hi"}}},
{"mark":{"type":"tick","orient":"horizontal","size":5,"thickness":1},"encoding":{"y":{"field":"lo","type":"quantitative"}}},
{"mark":{"type":"tick","orient":"horizontal","size":5,"thickness":1},"encoding":{"y":{"field":"hi","type":"quantitative"}}}
],
"encoding":{"x":{"field":"i","type":"quantitative"},"color":{"field":"s","type":"nominal","legend":null}}},
{"data":{"name":"ins"},"transform":[{"filter":"datum.p == 2 && datum.t == 'open'"}],"mark":{"type":"point","shape":"square","filled":false,"fill":"white","size":22,"strokeWidth":1,"opacity":1},
"encoding":{"x":{"field":"i","type":"quantitative"},"y":{"field":"m","type":"quantitative"},"color":{"field":"s","type":"nominal","legend":null}}},
{"data":{"name":"ins"},"transform":[{"filter":"datum.p == 2 && datum.t == 'full'"}],"mark":{"type":"point","shape":"circle","filled":true,"size":36,"opacity":1},
"encoding":{"x":{"field":"i","type":"quantitative"},"y":{"field":"m","type":"quantitative"},"color":{"field":"s","type":"nominal","legend":null}}},
{"data":{"name":"lab"},"transform":[{"filter":"datum.p == 2"}],"mark":{"type":"text","fontSize":14,"align":"center","baseline":"middle","font":"Liberation Sans"},
"encoding":{"x":{"field":"i","type":"quantitative"},"y":{"field":"m","type":"quantitative"},"text":{"field":"t"},"color":{"field":"s","type":"nominal","legend":null}}}
]}
],
"resolve":{"scale":{"x":"independent","y":"independent"},"axis":{"x":"independent","y":"independent"}}
}
